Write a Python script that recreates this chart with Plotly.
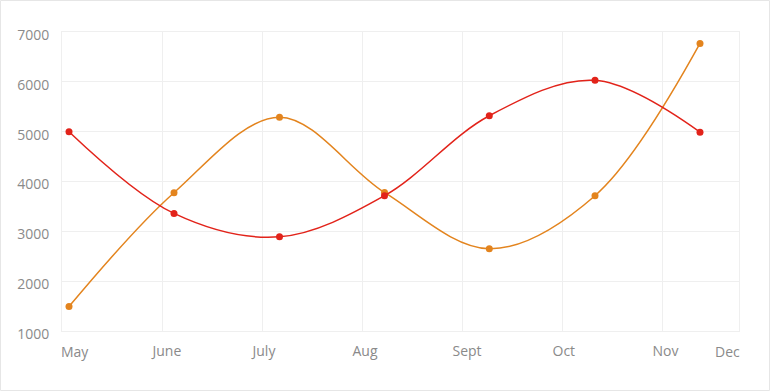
import plotly.graph_objects as go

# Month positions on the x axis (0 = May, 1 = June, ...)
month_ticks = [0, 1, 2, 3, 4, 5, 6]
month_labels = ["May", "June", "July", "Aug", "Sept", "Oct", "Nov"]
x_range_end = 6.77

# Point positions (in months from start of May)
x_points = [0.07, 1.12, 2.175, 3.225, 4.273, 5.33, 6.38]

series_red = [5000, 3360, 2890, 3715, 5320, 6030, 4990]
series_orange = [1490, 3775, 5290, 3780, 2650, 3715, 6770]

RED = "#e2231a"
ORANGE = "#e3841e"
GRID = "#efefef"
TEXT = "#8a8a8a"
FONT = "Open Sans"

fig = go.Figure()
fig.add_trace(go.Scatter(
    x=x_points, y=series_orange, mode="lines+markers",
    line=dict(color=ORANGE, width=1.5, shape="spline", smoothing=1),
    marker=dict(color=ORANGE, size=7), name="Series 2", cliponaxis=False))
fig.add_trace(go.Scatter(
    x=x_points, y=series_red, mode="lines+markers",
    line=dict(color=RED, width=1.5, shape="spline", smoothing=1),
    marker=dict(color=RED, size=7), name="Series 1", cliponaxis=False))

fig.update_layout(
    width=770, height=391,
    margin=dict(l=62, r=31, t=32, b=60),
    paper_bgcolor="white", plot_bgcolor="white",
    showlegend=False,
    font=dict(family=FONT, size=14, color=TEXT),
    xaxis=dict(
        range=[0, x_range_end],
        tickvals=month_ticks[1:], ticktext=month_labels[1:],
        showgrid=True, gridcolor=GRID, gridwidth=1,
        showline=True, linecolor=GRID, mirror=True,
        zeroline=False, ticks="",
        ticklabelposition="outside right", ticklabelshift=-10,
        ticklabelstandoff=7,
        tickfont=dict(family=FONT, size=14, color=TEXT),
    ),
    yaxis=dict(
        range=[1000, 7000], dtick=1000, tick0=1000,
        showgrid=True, gridcolor=GRID, gridwidth=1,
        showline=True, linecolor=GRID, mirror=True,
        zeroline=False, ticks="",
        ticklabelshift=3, ticklabelstandoff=9,
        tickfont=dict(family=FONT, size=14, color=TEXT),
    ),
    annotations=[
        dict(text=month_labels[0], xref="paper", yref="paper", x=0, y=0,
             xanchor="left", yanchor="top", yshift=-9, xshift=-3, showarrow=False,
             font=dict(family=FONT, size=14, color=TEXT)),
        dict(text="Dec", xref="paper", yref="paper", x=1, y=0,
             xanchor="right", yanchor="top", yshift=-9, xshift=3, showarrow=False,
             font=dict(family=FONT, size=14, color=TEXT)),
    ],
    shapes=[dict(type="rect", xref="paper", yref="paper",
                 x0=(0.5 - 62) / 677, x1=(769.5 - 62) / 677,
                 y0=(331 - 390.5) / 299, y1=(331 - 0.5) / 299,
                 line=dict(color="#e6e6e6", width=1), layer="below")],
)

fig.write_html("out.html")
